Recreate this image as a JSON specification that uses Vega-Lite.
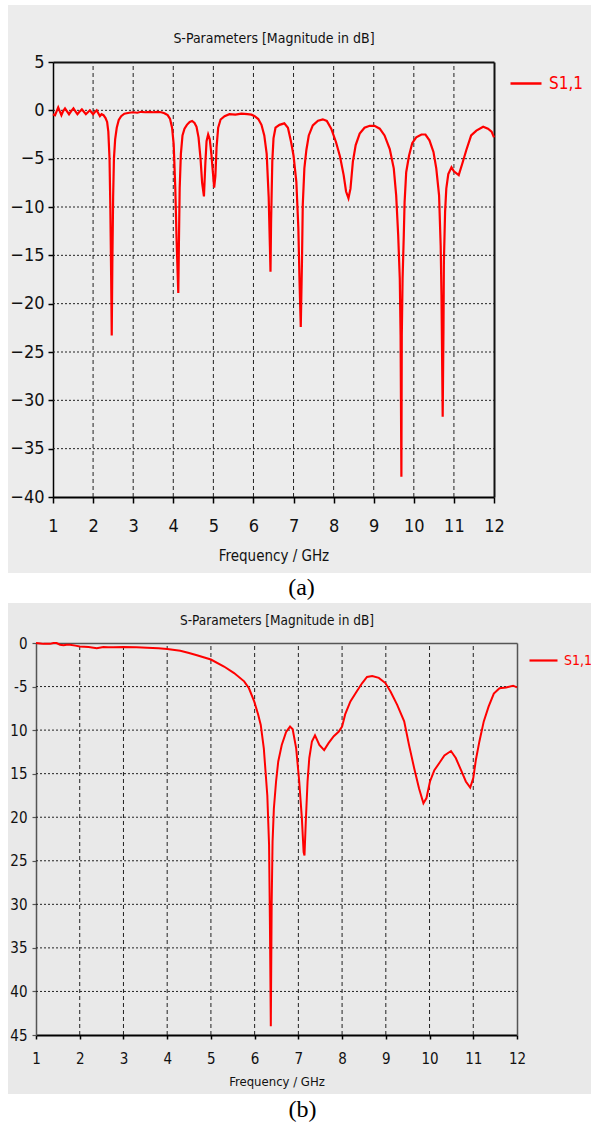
{
  "$schema": "https://vega.github.io/schema/vega-lite/v6.json",
  "background": "white",
  "padding": {"left": 8, "top": 5, "right": 0, "bottom": 0},
  "config": {
    "view": {"stroke": null},
    "axis": {"labelFlush": false, "labelOverlap": false}
  },
  "datasets": {
    "gx": [{"v":2},{"v":3},{"v":4},{"v":5},{"v":6},{"v":7},{"v":8},{"v":9},{"v":10},{"v":11}],
    "gya": [{"v":-35},{"v":-30},{"v":-25},{"v":-20},{"v":-15},{"v":-10},{"v":-5},{"v":0}],
    "gyb": [{"v":-40},{"v":-35},{"v":-30},{"v":-25},{"v":-20},{"v":-15},{"v":-10},{"v":-5}],
    "a": [
      {"f":1.00,"db":-0.4},{"f":1.05,"db":-0.5},{"f":1.09,"db":-0.1},{"f":1.13,"db":0.3},{"f":1.17,"db":-0.1},
      {"f":1.21,"db":-0.5},{"f":1.25,"db":-0.1},{"f":1.30,"db":0.2},{"f":1.35,"db":-0.1},{"f":1.40,"db":-0.4},
      {"f":1.45,"db":-0.1},{"f":1.51,"db":0.2},{"f":1.56,"db":-0.1},{"f":1.61,"db":-0.4},{"f":1.66,"db":-0.15},
      {"f":1.72,"db":0.1},{"f":1.77,"db":-0.15},{"f":1.82,"db":-0.4},{"f":1.87,"db":-0.2},{"f":1.92,"db":0.0},
      {"f":1.96,"db":-0.2},{"f":2.00,"db":-0.4},{"f":2.04,"db":-0.2},{"f":2.09,"db":0.0},{"f":2.13,"db":-0.3},
      {"f":2.17,"db":-0.6},{"f":2.21,"db":-0.4},{"f":2.26,"db":-0.5},
      {"f":2.31,"db":-0.8},{"f":2.35,"db":-1.2},{"f":2.38,"db":-2.2},{"f":2.41,"db":-5},{"f":2.43,"db":-10},
      {"f":2.45,"db":-17},{"f":2.465,"db":-23.3},{"f":2.48,"db":-16},{"f":2.50,"db":-9},{"f":2.52,"db":-5},
      {"f":2.55,"db":-3},{"f":2.59,"db":-1.8},{"f":2.64,"db":-1.0},{"f":2.70,"db":-0.6},{"f":2.78,"db":-0.35},
      {"f":2.90,"db":-0.25},{"f":3.00,"db":-0.2},{"f":3.10,"db":-0.25},{"f":3.20,"db":-0.15},{"f":3.30,"db":-0.2},
      {"f":3.40,"db":-0.15},{"f":3.50,"db":-0.2},{"f":3.60,"db":-0.15},{"f":3.70,"db":-0.2},{"f":3.78,"db":-0.3},
      {"f":3.86,"db":-0.5},{"f":3.92,"db":-0.9},{"f":3.97,"db":-1.8},{"f":4.01,"db":-3.5},{"f":4.05,"db":-8},
      {"f":4.08,"db":-13},{"f":4.11,"db":-17},{"f":4.125,"db":-18.9},{"f":4.14,"db":-14},{"f":4.16,"db":-8},
      {"f":4.19,"db":-4.5},{"f":4.23,"db":-2.6},{"f":4.28,"db":-1.9},{"f":4.34,"db":-1.5},{"f":4.41,"db":-1.2},
      {"f":4.47,"db":-1.1},{"f":4.53,"db":-1.3},{"f":4.58,"db":-1.7},{"f":4.63,"db":-2.8},{"f":4.68,"db":-5},
      {"f":4.72,"db":-7.5},{"f":4.765,"db":-8.9},{"f":4.80,"db":-5.5},{"f":4.83,"db":-3.2},{"f":4.87,"db":-2.5},
      {"f":4.91,"db":-3.0},{"f":4.95,"db":-4.5},{"f":4.99,"db":-6.5},{"f":5.02,"db":-8.0},{"f":5.05,"db":-6.8},
      {"f":5.08,"db":-3.8},{"f":5.12,"db":-1.8},{"f":5.18,"db":-0.95},{"f":5.28,"db":-0.6},{"f":5.40,"db":-0.4},
      {"f":5.55,"db":-0.45},{"f":5.70,"db":-0.35},{"f":5.85,"db":-0.4},{"f":5.95,"db":-0.45},{"f":6.03,"db":-0.6},
      {"f":6.12,"db":-0.9},{"f":6.20,"db":-1.5},{"f":6.27,"db":-2.6},{"f":6.33,"db":-4.5},{"f":6.38,"db":-9},
      {"f":6.41,"db":-14},{"f":6.425,"db":-16.7},{"f":6.44,"db":-11.5},{"f":6.47,"db":-5.3},{"f":6.50,"db":-2.9},
      {"f":6.55,"db":-1.8},{"f":6.65,"db":-1.5},{"f":6.77,"db":-1.35},{"f":6.86,"db":-1.8},{"f":6.94,"db":-3.3},
      {"f":7.00,"db":-4.7},{"f":7.07,"db":-7.4},{"f":7.12,"db":-12.2},{"f":7.15,"db":-17.8},{"f":7.18,"db":-22.4},
      {"f":7.21,"db":-15.7},{"f":7.23,"db":-9.8},{"f":7.27,"db":-6},{"f":7.32,"db":-4.1},{"f":7.38,"db":-2.6},
      {"f":7.48,"db":-1.55},{"f":7.61,"db":-1.07},{"f":7.73,"db":-0.93},{"f":7.83,"db":-1.1},{"f":7.94,"db":-1.9},
      {"f":8.06,"db":-3.3},{"f":8.16,"db":-4.8},{"f":8.25,"db":-6.7},{"f":8.31,"db":-8.4},{"f":8.37,"db":-9.1},
      {"f":8.42,"db":-8.1},{"f":8.48,"db":-5.3},{"f":8.55,"db":-3.6},{"f":8.65,"db":-2.4},{"f":8.77,"db":-1.8},
      {"f":8.90,"db":-1.6},{"f":9.02,"db":-1.6},{"f":9.15,"db":-1.9},{"f":9.27,"db":-2.6},{"f":9.40,"db":-4},
      {"f":9.50,"db":-6},{"f":9.56,"db":-8.8},{"f":9.61,"db":-12.9},{"f":9.65,"db":-17.4},{"f":9.67,"db":-23.3},
      {"f":9.69,"db":-37.9},{"f":9.70,"db":-23.3},{"f":9.72,"db":-17.4},{"f":9.75,"db":-12.9},{"f":9.77,"db":-9.5},
      {"f":9.81,"db":-6.4},{"f":9.88,"db":-4.7},{"f":9.96,"db":-3.4},{"f":10.06,"db":-2.8},{"f":10.19,"db":-2.5},
      {"f":10.29,"db":-2.5},{"f":10.39,"db":-3.1},{"f":10.49,"db":-4.3},{"f":10.56,"db":-6},{"f":10.63,"db":-8.8},
      {"f":10.67,"db":-14},{"f":10.69,"db":-19.1},{"f":10.72,"db":-31.7},{"f":10.74,"db":-22.6},{"f":10.75,"db":-15.7},
      {"f":10.78,"db":-10.5},{"f":10.81,"db":-8.1},{"f":10.86,"db":-6.6},{"f":10.94,"db":-5.9},{"f":11.00,"db":-6.3},
      {"f":11.12,"db":-6.7},{"f":11.21,"db":-5.5},{"f":11.31,"db":-4.1},{"f":11.43,"db":-2.6},{"f":11.56,"db":-2.1},
      {"f":11.73,"db":-1.7},{"f":11.85,"db":-1.9},{"f":11.94,"db":-2.2},{"f":12.00,"db":-2.8}
    ],
    "b": [
      {"f":1.00,"db":0},{"f":1.10,"db":-0.05},{"f":1.17,"db":-0.1},{"f":1.25,"db":-0.1},{"f":1.32,"db":-0.1},
      {"f":1.40,"db":0.0},{"f":1.47,"db":0.0},{"f":1.55,"db":-0.2},{"f":1.63,"db":-0.27},{"f":1.70,"db":-0.2},
      {"f":1.78,"db":-0.2},{"f":1.90,"db":-0.3},{"f":2.00,"db":-0.4},{"f":2.20,"db":-0.45},{"f":2.39,"db":-0.6},
      {"f":2.54,"db":-0.45},{"f":2.65,"db":-0.5},{"f":2.77,"db":-0.5},{"f":3.00,"db":-0.45},{"f":3.30,"db":-0.5},
      {"f":3.54,"db":-0.55},{"f":3.80,"db":-0.6},{"f":4.00,"db":-0.7},{"f":4.30,"db":-0.9},{"f":4.50,"db":-1.15},
      {"f":4.68,"db":-1.4},{"f":5.00,"db":-1.9},{"f":5.30,"db":-2.7},{"f":5.53,"db":-3.45},{"f":5.76,"db":-4.4},
      {"f":5.87,"db":-5.2},{"f":5.99,"db":-6.7},{"f":6.08,"db":-8.2},{"f":6.14,"db":-9.4},{"f":6.21,"db":-12.1},
      {"f":6.29,"db":-17.5},{"f":6.33,"db":-23.2},{"f":6.35,"db":-32.4},{"f":6.37,"db":-44.0},{"f":6.39,"db":-29.7},
      {"f":6.41,"db":-22.8},{"f":6.44,"db":-19},{"f":6.49,"db":-15.9},{"f":6.54,"db":-13.6},{"f":6.62,"db":-11.7},
      {"f":6.72,"db":-10.2},{"f":6.81,"db":-9.6},{"f":6.87,"db":-9.9},{"f":6.95,"db":-12.1},{"f":7.02,"db":-15.9},
      {"f":7.08,"db":-20.1},{"f":7.12,"db":-24},{"f":7.14,"db":-24.4},{"f":7.17,"db":-20.5},{"f":7.21,"db":-15.9},
      {"f":7.25,"db":-13.2},{"f":7.31,"db":-11.3},{"f":7.38,"db":-10.6},{"f":7.48,"db":-11.7},{"f":7.59,"db":-12.3},
      {"f":7.69,"db":-11.5},{"f":7.81,"db":-10.7},{"f":7.92,"db":-10.2},{"f":8.00,"db":-9.6},{"f":8.07,"db":-8.2},
      {"f":8.19,"db":-6.7},{"f":8.33,"db":-5.6},{"f":8.46,"db":-4.6},{"f":8.57,"db":-3.9},{"f":8.69,"db":-3.8},
      {"f":8.84,"db":-4.0},{"f":8.99,"db":-4.6},{"f":9.11,"db":-5.6},{"f":9.26,"db":-7.1},{"f":9.42,"db":-9.0},
      {"f":9.53,"db":-11.7},{"f":9.65,"db":-14.4},{"f":9.76,"db":-16.7},{"f":9.86,"db":-18.4},{"f":9.93,"db":-17.8},
      {"f":10.01,"db":-15.9},{"f":10.11,"db":-14.6},{"f":10.22,"db":-13.8},{"f":10.34,"db":-12.9},{"f":10.49,"db":-12.4},
      {"f":10.60,"db":-13.2},{"f":10.72,"db":-14.6},{"f":10.83,"db":-15.9},{"f":10.93,"db":-16.6},{"f":11.00,"db":-15.5},
      {"f":11.06,"db":-13.4},{"f":11.14,"db":-11.3},{"f":11.24,"db":-9.0},{"f":11.35,"db":-7.3},{"f":11.47,"db":-5.8},
      {"f":11.60,"db":-5.2},{"f":11.75,"db":-5.1},{"f":11.91,"db":-4.9},{"f":12.00,"db":-5.1}
    ]
  },
  "vconcat": [
    {
      "width": 583,
      "height": 568,
      "view": {"fill": "#ececec", "stroke": null},
      "title": {"text": "(a)", "orient": "bottom", "anchor": "middle", "offset": 3, "dx": 2, "font": "Liberation Serif", "fontSize": 24, "fontWeight": "normal", "color": "#000"},
      "layer": [
        {
          "data": {"name": "gx"},
          "mark": {"type": "rule", "color": "#222", "strokeWidth": 1, "strokeDash": [4, 3]},
          "encoding": {
            "x": {"field": "v", "type": "quantitative", "scale": {"domain": [1, 12], "range": [45, 486], "nice": false, "zero": false}, "axis": null},
            "y": {"datum": -40, "type": "quantitative", "scale": {"domain": [-40, 5], "range": [492, 57], "nice": false, "zero": false}, "axis": null},
            "y2": {"datum": 5}
          }
        },
        {
          "data": {"name": "gya"},
          "mark": {"type": "rule", "color": "#222", "strokeWidth": 1, "strokeDash": [2, 2]},
          "encoding": {
            "y": {"field": "v", "type": "quantitative", "scale": {"domain": [-40, 5], "range": [492, 57], "nice": false, "zero": false}, "axis": null},
            "x": {"datum": 1, "type": "quantitative", "scale": {"domain": [1, 12], "range": [45, 486], "nice": false, "zero": false}, "axis": null},
            "x2": {"datum": 12}
          }
        },
        {
          "data": {"name": "a"},
          "mark": {"type": "line", "strokeWidth": 2.2, "clip": false},
          "encoding": {
            "x": {"field": "f", "type": "quantitative", "scale": {"domain": [1, 12], "range": [45, 486], "nice": false, "zero": false},
              "axis": {"orient": "bottom", "offset": -76, "values": [1,2,3,4,5,6,7,8,9,10,11,12], "grid": false, "tickSize": 6, "tickColor": "#000", "tickWidth": 1.5, "domainColor": "#000", "domainWidth": 2, "labelPadding": 14, "labelFont": "Liberation Sans Narrow, DejaVu Sans Condensed, sans-serif", "labelFontSize": 18, "labelColor": "#111", "title": "Frequency / GHz", "titleFont": "Liberation Sans Narrow, DejaVu Sans Condensed, sans-serif", "titleFontSize": 15, "titleFontWeight": "normal", "titleColor": "#111", "titleY": 51, "titleBaseline": "top"}},
            "y": {"field": "db", "type": "quantitative", "scale": {"domain": [-40, 5], "range": [492, 57], "nice": false, "zero": false},
              "axis": {"orient": "left", "offset": -45, "values": [-40,-35,-30,-25,-20,-15,-10,-5,0,5], "grid": false, "tickSize": 5, "tickColor": "#000", "tickWidth": 1.5, "domainColor": "#000", "domainWidth": 1.5, "labelPadding": 4, "labelFont": "Liberation Sans Narrow, DejaVu Sans Condensed, sans-serif", "labelFontSize": 18, "labelColor": "#111", "title": null}},
            "color": {"datum": "S1,1", "type": "nominal", "scale": {"range": ["#ff0000"]},
              "legend": {"orient": "none", "legendX": 501, "legendY": 61.5, "title": null, "padding": 0, "symbolType": "stroke", "symbolSize": 961, "symbolStrokeWidth": 2.5, "labelColor": "#ff0000", "labelFont": "Liberation Sans Narrow, DejaVu Sans Condensed, sans-serif", "labelFontSize": 17, "labelOffset": 6}}
          }
        },
        {
          "data": {"name": "a"},
          "mark": {"type": "line", "opacity": 0},
          "encoding": {
            "x": {"field": "f", "type": "quantitative", "scale": {"domain": [1, 12], "range": [45, 486], "nice": false, "zero": false},
              "axis": {"orient": "top", "offset": -57, "ticks": false, "labels": false, "grid": false, "domainColor": "#111", "domainWidth": 2, "title": "S-Parameters [Magnitude in dB]", "titleFont": "Liberation Sans Narrow, DejaVu Sans Condensed, sans-serif", "titleFontSize": 14, "titleFontWeight": "normal", "titleColor": "#111", "titlePadding": 17}},
            "y": {"field": "db", "type": "quantitative", "scale": {"domain": [-40, 5], "range": [492, 57], "nice": false, "zero": false},
              "axis": {"orient": "right", "offset": -97, "ticks": false, "labels": false, "grid": false, "domainColor": "#111", "domainWidth": 2, "title": null}}
          }
        }
      ],
      "resolve": {"axis": {"x": "independent", "y": "independent"}}
    },
    {
      "width": 583,
      "height": 491,
      "view": {"fill": "#e9e9e9", "stroke": null},
      "title": {"text": "(b)", "orient": "bottom", "anchor": "middle", "offset": 4, "dx": 3, "font": "Liberation Serif", "fontSize": 24, "fontWeight": "normal", "color": "#000"},
      "layer": [
        {
          "data": {"name": "gx"},
          "mark": {"type": "rule", "color": "#222", "strokeWidth": 1, "strokeDash": [4, 3]},
          "encoding": {
            "x": {"field": "v", "type": "quantitative", "scale": {"domain": [1, 12], "range": [28, 509], "nice": false, "zero": false}, "axis": null},
            "y": {"datum": -45, "type": "quantitative", "scale": {"domain": [-45, 0], "range": [432, 40], "nice": false, "zero": false}, "axis": null},
            "y2": {"datum": 0}
          }
        },
        {
          "data": {"name": "gyb"},
          "mark": {"type": "rule", "color": "#222", "strokeWidth": 1, "strokeDash": [2, 2]},
          "encoding": {
            "y": {"field": "v", "type": "quantitative", "scale": {"domain": [-45, 0], "range": [432, 40], "nice": false, "zero": false}, "axis": null},
            "x": {"datum": 1, "type": "quantitative", "scale": {"domain": [1, 12], "range": [28, 509], "nice": false, "zero": false}, "axis": null},
            "x2": {"datum": 12}
          }
        },
        {
          "data": {"name": "b"},
          "mark": {"type": "line", "strokeWidth": 2, "clip": false},
          "encoding": {
            "x": {"field": "f", "type": "quantitative", "scale": {"domain": [1, 12], "range": [28, 509], "nice": false, "zero": false},
              "axis": {"orient": "bottom", "offset": -59, "values": [1,2,3,4,5,6,7,8,9,10,11,12], "grid": false, "tickSize": 4, "tickColor": "#000", "tickWidth": 1.5, "domainColor": "#000", "domainWidth": 2, "labelPadding": 12, "labelFont": "Liberation Sans Narrow, DejaVu Sans Condensed, sans-serif", "labelFontSize": 15, "labelColor": "#111", "title": "Frequency / GHz", "titleFont": "Liberation Sans Narrow, DejaVu Sans Condensed, sans-serif", "titleFontSize": 13, "titleFontWeight": "normal", "titleColor": "#111", "titleY": 40, "titleBaseline": "top"}},
            "y": {"field": "db", "type": "quantitative", "scale": {"domain": [-45, 0], "range": [432, 40], "nice": false, "zero": false},
              "axis": {"orient": "left", "offset": -28, "values": [-45,-40,-35,-30,-25,-20,-15,-10,-5,0], "grid": false, "tickSize": 4, "tickColor": "#555", "tickWidth": 1.2, "domainColor": "#555", "domainWidth": 1.5, "labelPadding": 5, "labelFont": "Liberation Sans Narrow, DejaVu Sans Condensed, sans-serif", "labelFontSize": 15, "labelColor": "#111", "labelExpr": "datum.value == -5 ? '-5' : format(abs(datum.value), 'd')", "title": null}},
            "color": {"datum": "S1,1", "type": "nominal", "scale": {"range": ["#ff0000"]},
              "legend": {"orient": "none", "legendX": 520, "legendY": 42, "title": null, "padding": 0, "symbolType": "stroke", "symbolSize": 784, "symbolStrokeWidth": 2.2, "labelColor": "#ff0000", "labelFont": "Liberation Sans Narrow, DejaVu Sans Condensed, sans-serif", "labelFontSize": 14, "labelOffset": 5}}
          }
        },
        {
          "data": {"name": "b"},
          "mark": {"type": "line", "opacity": 0},
          "encoding": {
            "x": {"field": "f", "type": "quantitative", "scale": {"domain": [1, 12], "range": [28, 509], "nice": false, "zero": false},
              "axis": {"orient": "top", "offset": -40, "ticks": false, "labels": false, "grid": false, "domainColor": "#555", "domainWidth": 1.5, "title": "S-Parameters [Magnitude in dB]", "titleFont": "Liberation Sans Narrow, DejaVu Sans Condensed, sans-serif", "titleFontSize": 13.5, "titleFontWeight": "normal", "titleColor": "#111", "titlePadding": 16}},
            "y": {"field": "db", "type": "quantitative", "scale": {"domain": [-45, 0], "range": [432, 40], "nice": false, "zero": false},
              "axis": {"orient": "right", "offset": -74, "ticks": false, "labels": false, "grid": false, "domainColor": "#555", "domainWidth": 1.5, "title": null}}
          }
        }
      ],
      "resolve": {"axis": {"x": "independent", "y": "independent"}}
    }
  ],
  "spacing": 30,
  "bounds": "flush",
  "resolve": {"scale": {"x": "independent", "y": "independent", "color": "independent"}, "legend": {"color": "independent"}}
}
